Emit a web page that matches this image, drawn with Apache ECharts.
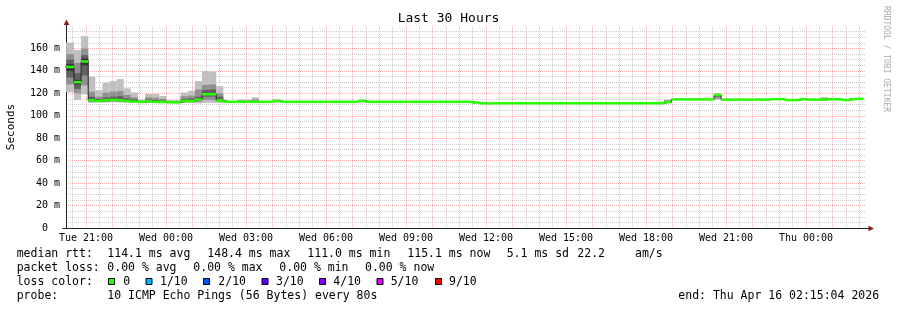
<!DOCTYPE html>
<html><head><meta charset="utf-8">
<script src="https://cdn.jsdelivr.net/npm/echarts@6/dist/echarts.min.js"></script>
<style>html,body{margin:0;padding:0;background:#fff}#c{width:897px;height:310px}</style>
</head><body><div id="c"></div>
<script>
const MONO = '"DejaVu Sans Mono", monospace';
// x axis: hours since Tue 00:00
const axisStart = 20.2511;   // Tue 20:15:04
const axisEnd = 50.2511;     // Thu 02:15:04
const firstBinStart = 20.0173;
const binHours = 16 / 60;    // 12 x 80 s consolidation
const xLabelHours = [21, 24, 27, 30, 33, 36, 39, 42, 45, 48];
const xLabelText = ['Tue 21:00','Wed 00:00','Wed 03:00','Wed 06:00','Wed 09:00','Wed 12:00','Wed 15:00','Wed 18:00','Wed 21:00','Thu 00:00'];
const yMajorTicks = [0, 20, 40, 60, 80, 100, 120, 140, 160];
const yMinorTicks = [5,10,15,25,30,35,45,50,55,65,70,75,85,90,95,105,110,115,125,130,135,145,150,155,165,170,175];
const hourLines = [];
for (let h = 21; h <= 50; h++) hourLines.push(h);
const halfHourLines = [];
for (let h = 20; h <= 49; h++) halfHourLines.push(h + 0.5);

// median rtt (ms) per 16-minute bin
const median = [
  143.5,143.5,130.0,148.4,113.8,113.2,113.8,114.1,113.8,113.2,
  112.6,112.3,112.9,112.3,112.3,112.0,112.0,113.2,113.2,114.4,
  119.2,119.2,113.6,112.4,112.4,112.4,112.4,112.4,112.4,112.4,
  113.3,112.4,112.4,112.4,112.4,112.4,112.4,112.4,112.4,112.4,
  112.4,112.4,113.3,112.4,112.4,112.4,112.4,112.4,112.4,112.4,
  112.4,112.4,112.4,112.4,112.4,112.4,112.4,112.4,111.7,111.2,
  111.0,111.2,111.2,111.2,111.2,111.2,111.2,111.2,111.2,111.2,
  111.2,111.2,111.2,111.2,111.2,111.2,111.2,111.2,111.2,111.2,
  111.2,111.2,111.2,111.2,111.2,112.2,114.6,114.6,114.6,114.6,
  114.6,114.6,118.5,114.4,114.4,114.4,114.4,114.4,114.4,114.4,
  114.8,114.8,114.0,114.0,114.8,114.4,114.4,114.4,114.8,114.8,
  114.0,114.8,115.1
];

// smoke: [bin, p1..p8] sorted ping times (ms)
const smoke = [
  [0, 121,128,134,140,146,150,155,165.3],
  [1, 121,128,134,140,146,150,155,165.3],
  [2, 114,120,124,128,132,138,147,158.5],
  [3, 119,127,136,145,151,154,160,171],
  [4, 111.5,112.5,113,113.5,114.3,117,121.5,134.8],
  [5, 111.8,112.5,112.8,113,113.6,115,117,122.9],
  [6, 111.8,112.5,113,113.5,114.3,116.5,120.5,129.4],
  [7, 112,112.8,113.3,113.8,114.5,117,121.5,130.9],
  [8, 111.8,112.5,113,113.5,114.3,117.5,122,132.7],
  [9, 111.5,112.2,112.7,113,113.6,115.5,118.5,124.4],
  [10, 111.3,111.8,112.2,112.5,113,114.5,116.5,120.8],
  [11, 111.3,111.7,112,112.2,112.5,113,113.5,114.2],
  [12, 111.3,111.8,112.3,112.7,113.2,114.5,116.5,119.4],
  [13, 111.3,111.7,112,112.2,112.6,114,116,119.4],
  [14, 111.2,111.6,112,112.2,112.5,113.5,115,117.6],
  [15, 111.2,111.5,111.8,111.9,112.2,112.6,113.2,114],
  [16, 111.2,111.5,111.8,111.9,112.2,112.6,113.2,114],
  [17, 111.5,112,112.5,113,113.5,115,117.5,120.8],
  [18, 111.5,112,112.5,113,113.5,115.5,118,122.3],
  [19, 111,112.5,113.5,114.2,114.8,117,123.5,130.9],
  [20, 111.5,114,117,118.5,120,123,127.5,140],
  [21, 111.5,114,117,118.5,120,123.5,128,139.5],
  [22, 111.5,112.5,113,113.4,114,117,120,126.5],
  [25, 111.9,112.1,112.3,112.4,112.6,113,113.6,114.4],
  [26, 111.9,112.1,112.3,112.4,112.6,113,113.6,114.4],
  [27, 111.9,112.1,112.3,112.4,112.6,113.2,114.5,116.5],
  [30, 112,112.5,112.9,113.2,113.5,113.8,114.2,114.6],
  [85, 111.5,111.7,111.9,112.1,112.4,113,113.8,114.4],
  [92, 114.2,115.5,117,118.2,118.8,119.3,119.7,120],
  [107, 114,114.2,114.3,114.4,114.5,115,115.8,116.8]
];
const smokeColors = ['#c0c0c0', '#919191', '#616161', '#323232'];

const lossLabels = ['0', '1/10', '2/10', '3/10', '4/10', '5/10', '9/10'];
const lossColors = ['#26ff00', '#00b8ff', '#0059ff', '#5e00ff', '#7e00ff', '#dd00ff', '#ff0000'];
const rttStats = ['114.1 ms avg', '148.4 ms max', '111.0 ms min', '115.1 ms now', '5.1 ms sd', '22.2', 'am/s'];
const lossStats = ['0.00 % avg', '0.00 % max', '0.00 % min', '0.00 % now'];
const probeText = '10 ICMP Echo Pings (56 Bytes) every 80s';
const endText = 'end: Thu Apr 16 02:15:04 2026';

const chart = echarts.init(document.getElementById('c'), null, {renderer: 'canvas'});

function clip(r, params) {
  const cs = params.coordSys;
  return echarts.graphic.clipRectByRect(r, {x: cs.x, y: cs.y, width: cs.width, height: cs.height});
}

const PINK = 'rgba(255,0,0,0.32)';
const GREY = 'rgba(120,120,120,0.36)';

const lineData = median.map((m, k) => [firstBinStart + k * binHours, m]);
lineData.push([firstBinStart + median.length * binHours, median[median.length - 1]]);

const option = {
  animation: false,
  backgroundColor: '#ffffff',
  grid: {left: 66, right: 31, top: 26, bottom: 82, containLabel: false, outerBoundsMode: 'none'},
  title: {text: 'Last 30 Hours', left: 'center', top: 7,
    textStyle: {fontFamily: MONO, fontSize: 13, fontWeight: 'normal', color: '#000'}},
  xAxis: [
    {type: 'value', min: axisStart, max: axisEnd,
      axisLine: {show: true, lineStyle: {color: '#222', width: 1}},
      axisTick: {show: false, customValues: hourLines},
      axisLabel: {customValues: xLabelHours, margin: 5, fontFamily: MONO, fontSize: 10, color: '#000',
        formatter: v => xLabelText[xLabelHours.indexOf(Math.round(v))] || ''},
      splitLine: {show: true, lineStyle: {color: PINK, width: 1, type: [1, 1]}}},
    {type: 'value', min: axisStart, max: axisEnd, position: 'top',
      axisLine: {show: false}, axisLabel: {show: false},
      axisTick: {show: false, customValues: halfHourLines},
      splitLine: {show: true, lineStyle: {color: GREY, width: 1, type: [1, 1]}}}
  ],
  yAxis: [
    {type: 'value', min: 0, max: 180,
      name: 'Seconds', nameLocation: 'middle', nameGap: 49, nameRotate: 90,
      nameTextStyle: {fontFamily: MONO, fontSize: 11, color: '#000'},
      axisLine: {show: true, lineStyle: {color: '#222', width: 1}},
      axisTick: {show: false, customValues: yMajorTicks},
      axisLabel: {customValues: yMajorTicks, margin: 6, fontFamily: MONO, fontSize: 10, color: '#000',
        formatter: v => v === 0 ? '0  ' : v + ' m'},
      splitLine: {show: true, lineStyle: {color: PINK, width: 1, type: [1, 1]}}},
    {type: 'value', min: 0, max: 180, position: 'right',
      axisLine: {show: false}, axisLabel: {show: false},
      axisTick: {show: false, customValues: yMinorTicks},
      splitLine: {show: true, lineStyle: {color: GREY, width: 1, type: [1, 1]}}}
  ],
  series: [
    {type: 'custom', name: 'smoke', xAxisIndex: 0, yAxisIndex: 0, clip: true,
      data: smoke, encode: {x: -1, y: 8},
      renderItem(params, api) {
        const k = api.value(0);
        const t0 = firstBinStart + k * binHours, t1 = t0 + binHours;
        const children = [];
        for (let b = 0; b < 4; b++) {
          const lo = api.value(1 + b), hi = api.value(8 - b);
          const a = api.coord([t0, hi]), c = api.coord([t1, lo]);
          const r = clip({x: a[0], y: a[1], width: c[0] - a[0], height: Math.max(c[1] - a[1], 0.8)}, params);
          if (r) children.push({type: 'rect', shape: r, style: {fill: smokeColors[b]}});
        }
        return {type: 'group', children};
      }},
    {type: 'line', name: 'median', xAxisIndex: 0, yAxisIndex: 0, step: 'end', symbol: 'none',
      data: lineData, clip: true, lineStyle: {color: '#202020', width: 1}, z: 3},
    {type: 'custom', name: 'loss', xAxisIndex: 0, yAxisIndex: 0, clip: true, z: 4,
      data: median.map((m, k) => [k, m]), encode: {x: -1, y: 1},
      renderItem(params, api) {
        const k = api.value(0), m = api.value(1);
        const t0 = firstBinStart + k * binHours, t1 = t0 + binHours;
        const a = api.coord([t0, m]), c = api.coord([t1, m]);
        const r = clip({x: a[0], y: a[1] - 1.25, width: c[0] - a[0], height: 2.5}, params);
        if (!r) return null;
        return {type: 'rect', shape: r, style: {fill: lossColors[0]}};
      }}
  ]
};
chart.setOption(option);

// decorations: axis extensions, arrows, legend texts
const o0 = chart.convertToPixel({xAxisIndex: 0, yAxisIndex: 0}, [axisStart, 0]);
const o1 = chart.convertToPixel({xAxisIndex: 0, yAxisIndex: 0}, [axisEnd, 180]);
const ax = Math.round(o0[0]) + 0.5, ay = Math.round(o0[1]) + 0.5;
const ARROW = '#8a1c1c';
const g = [
  {type: 'line', shape: {x1: ax - 4, y1: ay, x2: o1[0] + 4, y2: ay}, style: {stroke: '#222', lineWidth: 1}},
  {type: 'line', shape: {x1: ax, y1: ay, x2: ax, y2: o1[1] - 4}, style: {stroke: '#222', lineWidth: 1}},
  {type: 'polygon', shape: {points: [[ax, o1[1] - 6.5], [ax - 2.8, o1[1] - 1], [ax + 2.8, o1[1] - 1]]}, style: {fill: ARROW}},
  {type: 'polygon', shape: {points: [[o1[0] + 8, ay], [o1[0] + 2.5, ay - 2.8], [o1[0] + 2.5, ay + 2.8]]}, style: {fill: ARROW}},
  {type: 'text', x: 886, y: 59, rotation: -Math.PI / 2,
    style: {text: 'RRDTOOL / TOBI OETIKER', font: '8px ' + MONO, fill: '#aaaaaa', align: 'center', verticalAlign: 'middle'}}
];
const F = '11.5px ' + MONO;
function txt(s, x, y) { g.push({type: 'text', x, y, style: {text: s, font: F, fill: '#000', align: 'left', verticalAlign: 'middle'}}); }
const row = [254.5, 268.5, 282.2, 296];
txt('median rtt:', 16.7, row[0]);
[107.3, 207.3, 307.3, 407.3, 506.7, 577.3, 635].forEach((x, i) => txt(rttStats[i], x, row[0]));
txt('packet loss:', 16.7, row[1]);
[107.3, 193.3, 279.3, 365].forEach((x, i) => txt(lossStats[i], x, row[1]));
txt('loss color:', 16.7, row[2]);
const boxX = [108.5, 146, 203.5, 262, 319.5, 377, 435.5];
const lblX = [123.3, 160, 218.3, 276, 333.3, 390.7, 449];
lossLabels.forEach((l, i) => {
  g.push({type: 'rect', shape: {x: boxX[i], y: 278.5, width: 6, height: 6}, style: {fill: lossColors[i], stroke: '#000', lineWidth: 1}});
  txt(l, lblX[i], row[2]);
});
txt('probe:', 16.7, row[3]);
txt(probeText, 107.3, row[3]);
txt(endText, 678.3, row[3]);
chart.setOption({graphic: g});
</script></body></html>
